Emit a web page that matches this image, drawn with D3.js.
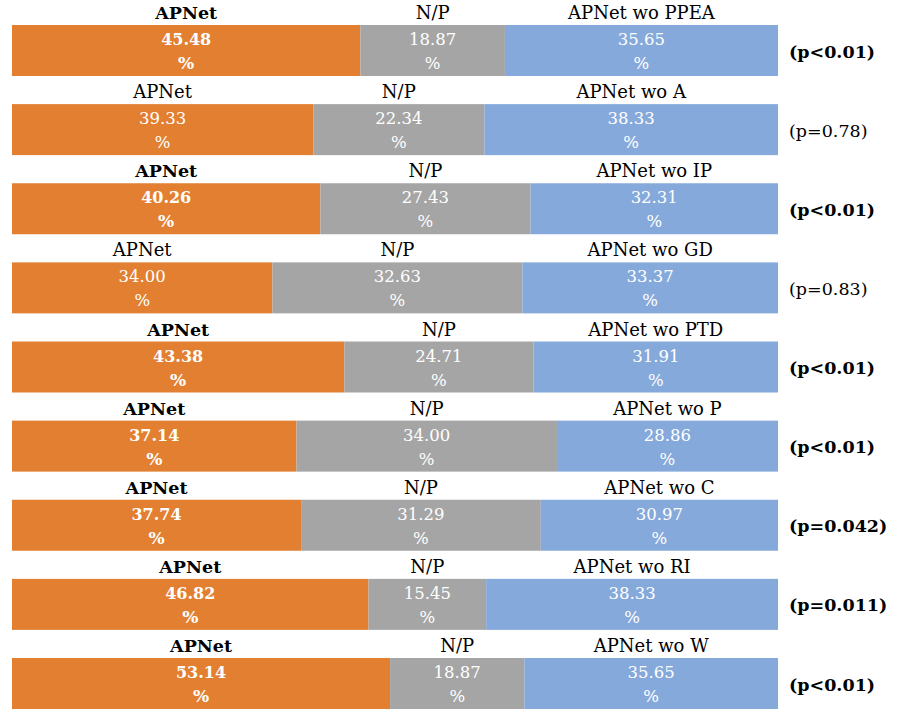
<!DOCTYPE html>
<html>
<head>
	<meta charset="utf-8">
	<title>APNet preference</title>
	<script type="text/javascript" src="https://d3js.org/d3.v7.min.js"></script>
	<style>
		body { margin: 0; background: #fff; }
		text { font-family: "DejaVu Serif", serif; }
	</style>
</head>

<body>
	<div id="chart"></div>
	<script>
	// one row per ablation: APNet vs N/P vs APNet without X
	var ablations = ["PPEA", "A", "IP", "GD", "PTD", "P", "C", "RI", "W"];
	var apnet = [45.48, 39.33, 40.26, 34.00, 43.38, 37.14, 37.74, 46.82, 53.14];
	var noPref = [18.87, 22.34, 27.43, 32.63, 24.71, 34.00, 31.29, 15.45, 18.87];
	var ablated = [35.65, 38.33, 32.31, 33.37, 31.91, 28.86, 30.97, 38.33, 35.65];
	var pLabels = ["(p<0.01)", "(p=0.78)", "(p<0.01)", "(p=0.83)", "(p<0.01)",
		"(p<0.01)", "(p=0.042)", "(p=0.011)", "(p<0.01)"];
	var significant = [true, false, true, false, true, true, true, true, true];

	var width = 897;
	var height = 717;

	var keys = ["apnet", "np", "wo"];
	var colors = ["#E27F31", "#A5A5A5", "#86A9DB"];

	var rows = ablations.map(function(a, i) {
		return {
			name: a,
			apnet: apnet[i],
			np: noPref[i],
			wo: ablated[i],
			p: pLabels[i],
			sig: significant[i]
		};
	});

	var svg = d3.select("#chart")
		.append("svg")
		.attr("width", width)
		.attr("height", height);

	var x = d3.scaleLinear()
		.domain([0, 1])
		.range([12, 778]);

	var y = d3.scaleBand()
		.domain(ablations)
		.range([25, 709])
		.paddingInner(0.3555)
		.paddingOuter(0);

	// 100% stacked: each row normalised by its own total
	var series = d3.stack()
		.keys(keys)
		.offset(d3.stackOffsetExpand)(rows);

	var layer = svg.selectAll("g.layer")
		.data(series)
		.enter()
		.append("g")
		.attr("class", "layer")
		.attr("fill", function(d, i) { return colors[i]; });

	layer.selectAll("rect")
		.data(function(d) { return d; })
		.enter()
		.append("rect")
		.attr("x", function(d) { return x(d[0]); })
		.attr("y", function(d) { return y(d.data.name); })
		.attr("width", function(d) { return x(d[1]) - x(d[0]); })
		.attr("height", y.bandwidth());

	function segName(key, d) {
		if (key === "apnet") return "APNet";
		if (key === "np") return "N/P";
		return "APNet wo " + d.data.name;
	}

	function isBold(key, d) {
		return key === "apnet" && d.data.sig;
	}

	series.forEach(function(s) {
		var key = s.key;
		var g = svg.append("g");

		// category label above each segment
		g.selectAll("text.cat")
			.data(s)
			.enter()
			.append("text")
			.attr("class", "cat")
			.attr("x", function(d) { return (x(d[0]) + x(d[1])) / 2; })
			.attr("y", function(d) { return y(d.data.name) - 6; })
			.attr("text-anchor", "middle")
			.attr("font-size", function(d) { return isBold(key, d) ? 17.5 : 18; })
			.attr("font-weight", function(d) { return isBold(key, d) ? "bold" : "normal"; })
			.attr("fill", "#000")
			.text(function(d) { return segName(key, d); });

		// value + "%" on two lines inside the segment
		var v = g.selectAll("text.val")
			.data(s)
			.enter()
			.append("text")
			.attr("class", "val")
			.attr("text-anchor", "middle")
			.attr("font-size", function(d) { return isBold(key, d) ? 16 : 16.5; })
			.attr("font-weight", function(d) { return isBold(key, d) ? "bold" : "normal"; })
			.attr("fill", "#fff");

		v.append("tspan")
			.attr("x", function(d) { return (x(d[0]) + x(d[1])) / 2; })
			.attr("y", function(d) { return y(d.data.name) + 20; })
			.text(function(d) { return d.data[key].toFixed(2); });

		v.append("tspan")
			.attr("x", function(d) { return (x(d[0]) + x(d[1])) / 2; })
			.attr("y", function(d) { return y(d.data.name) + 44; })
			.attr("font-size", function(d) { return isBold(key, d) ? 17 : 16.5; })
			.text("%");
	});

	// significance labels on the right
	svg.selectAll("text.pval")
		.data(rows)
		.enter()
		.append("text")
		.attr("class", "pval")
		.attr("x", 789)
		.attr("y", function(d) { return y(d.name) + 32.5; })
		.attr("font-size", 17.5)
		.attr("font-weight", function(d) { return d.sig ? "bold" : "normal"; })
		.attr("fill", "#000")
		.text(function(d) { return d.p; });
	</script>
</body>
</html>
